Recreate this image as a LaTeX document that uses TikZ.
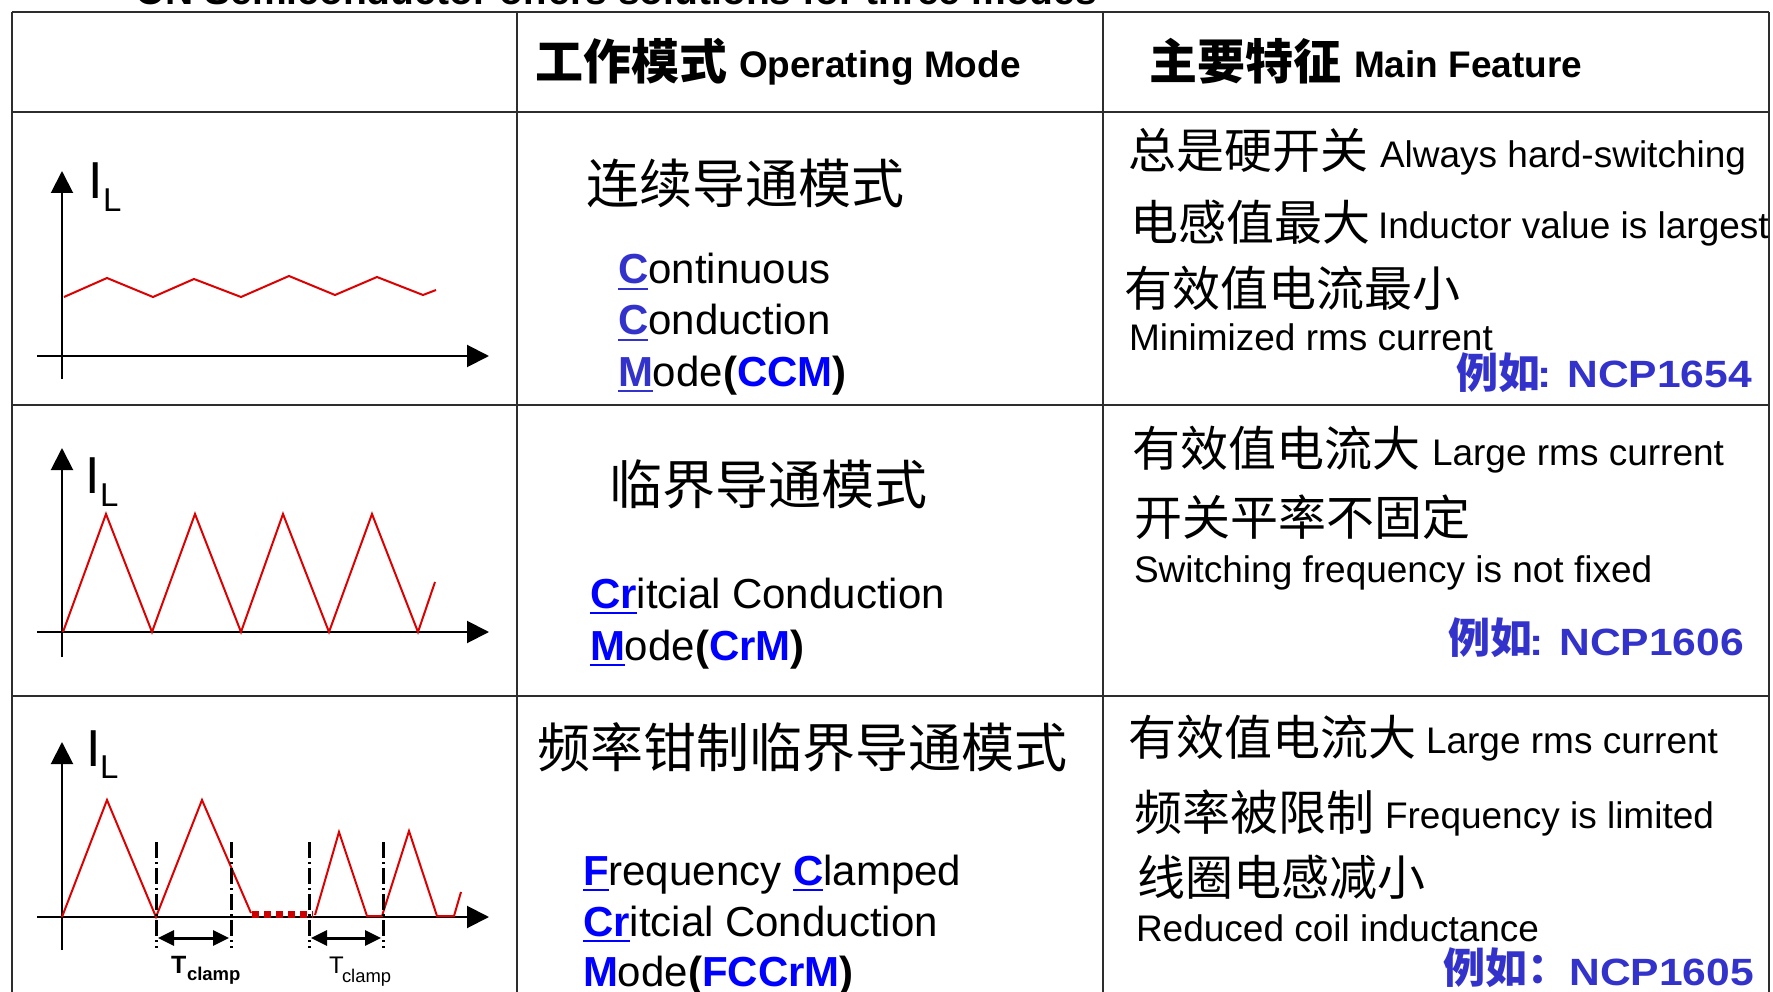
\documentclass[tikz,border=0pt]{standalone}
\usepackage{fontspec}
\usepackage{graphicx}
\setmainfont{Liberation Sans}
\newfontfamily\cjk{Noto Sans CJK SC}
\usetikzlibrary{arrows.meta}
\definecolor{gridc}{RGB}{45,45,45}
\definecolor{wavered}{RGB}{221,0,0}
\definecolor{dotred}{RGB}{204,0,0}
\definecolor{blueA}{RGB}{51,51,204}
\definecolor{blueB}{RGB}{0,0,255}
\newcommand{\fs}[1]{\fontsize{#1}{#1}\selectfont}
\newsavebox\ulbox
\newcommand{\ulw}[1]{\sbox\ulbox{#1}\rlap{\rule[-6pt]{\wd\ulbox}{2.2pt}}\usebox\ulbox}
\tikzset{
  txt/.style={inner sep=0pt, outer sep=0pt},
  cnh/.style={txt, anchor=west, font={\cjk\bfseries\fs{48}}},
  enh/.style={txt, anchor=base west, font={\bfseries\fs{37}}},
  cnmode/.style={txt, anchor=west, font={\cjk\fs{53}}},
  enmode/.style={txt, anchor=base west, font={\fs{42}}},
  cnfeat/.style={txt, anchor=west, font={\cjk\fs{48}}},
  enfeat/.style={txt, anchor=base west, font={\fs{37}}},
  egcn/.style={txt, anchor=west, font={\cjk\bfseries\fs{42}}, text=blueA},
  egen/.style={txt, anchor=base east, font={\bfseries\fs{38}}, text=blueA},
  gridline/.style={draw=gridc, line width=1.6pt},
  axis/.style={line width=2pt, -{Triangle[length=22pt,width=22pt]}},
  wave/.style={draw=wavered, line width=2pt, line join=miter},
  clampline/.style={line width=3pt, dash pattern=on 16pt off 4pt on 2pt off 4pt},
  dblarrow/.style={line width=3pt, {Triangle[length=16pt,width=15pt]}-{Triangle[length=16pt,width=15pt]}},
  bigI/.style={txt, anchor=base west, font={\fs{52}}},
  subL/.style={txt, anchor=base west, font={\fs{33}}}
}
\begin{document}
\begin{tikzpicture}[x=1pt,y=-1pt]
\path[clip] (0,0) rectangle (1773,992);
\fill[white] (0,0) rectangle (1773,992);

% title (cut off at top)
\node[txt, anchor=base west, font={\bfseries\fs{39}}] (title) at (135,5) {ON Semiconductor offers solutions for three modes};

% table grid
\draw[gridline] (12,12) -- (1769,12);
\draw[gridline] (12,112) -- (1769,112);
\draw[gridline] (12,405) -- (1769,405);
\draw[gridline] (12,696) -- (1769,696);
\draw[gridline] (12,12) -- (12,1000);
\draw[gridline] (517,12) -- (517,1000);
\draw[gridline] (1103,12) -- (1103,1000);
\draw[gridline] (1769,12) -- (1769,1000);

% header
\node[cnh] (h1cn) at (535,61) {工作模式};
\node[enh] (h1en) at (739,78) {Operating Mode};
\node[cnh] (h2cn) at (1149,61) {主要特征};
\node[enh] (h2en) at (1354,78) {Main Feature};

% ---------- graph CCM ----------
\draw[axis] (62,379) -- (62,171);
\draw[axis] (37,356) -- (489,356);
\draw[wave] (64,297) -- (107,278) -- (153,297) -- (194,279) -- (241,297) -- (289,276) -- (335,295) -- (377,277) -- (423,295) -- (436,290);
\node[bigI] (i1) at (88,199) {I};
\node[subL] (l1) at (103,212) {L};

% ---------- graph CrM ----------
\draw[axis] (62,657) -- (62,448);
\draw[axis] (37,632) -- (489,632);
\draw[wave] (63,632) -- (106,514) -- (152,632) -- (195,514) -- (241,632) -- (283,514) -- (329,632) -- (372,514) -- (418,632) -- (435,582);
\node[bigI] (i2) at (85,493) {I};
\node[subL] (l2) at (100,506) {L};

% ---------- graph FCCrM ----------
\draw[axis] (62,950) -- (62,742);
\draw[axis] (37,917) -- (489,917);
\draw[wave] (62,917) -- (107,800) -- (156,917) -- (202,800) -- (251,913);
\draw[dotred, line width=7pt, dash pattern=on 6.5pt off 5.5pt] (252,914.5) -- (313,914.5);
\draw[wave] (315,915) -- (339,832) -- (367,916) -- (382,916) -- (409,831) -- (437,916) -- (454,916) -- (461,892);
\draw[clampline] (156,842) -- (156,948);
\draw[clampline] (231,842) -- (231,948);
\draw[clampline] (309,842) -- (309,948);
\draw[clampline] (383,842) -- (383,948);
\coordinate (a1) at (158,938); \coordinate (b1) at (229,938);
\coordinate (a2) at (311,938); \coordinate (b2) at (381,938);
\draw[dblarrow] (a1) -- (b1);
\draw[dblarrow] (a2) -- (b2);
\node[bigI] (i3) at (86,766) {I};
\node[subL] (l3) at (100,778) {L};
\node[txt, anchor=base west, font={\bfseries\fs{25}}] (t1) at (171,973) {T};
\node[txt, anchor=base west, font={\bfseries\fs{18.5}}] (c1) at (187,980) {clamp};
\node[txt, anchor=base west, font={\fs{24}}] (t2) at (329,973) {T};
\node[txt, anchor=base west, font={\fs{18.4}}] (c2) at (342,982) {clamp};

% ---------- column 2: modes ----------
\node[cnmode] (m1cn) at (586,183) {连续导通模式};
\node[enmode] (m1a) at (618,284) {\textcolor{blueA}{\bfseries\ulw{C}}ontinuous};
\node[enmode] (m1b) at (618,335) {\textcolor{blueA}{\bfseries\ulw{C}}onduction};
\node[enmode] (m1c) at (618,386) {\textcolor{blueA}{\bfseries\ulw{M}}ode{\bfseries(\textcolor{blueB}{CCM})}};

\node[cnmode] (m2cn) at (609,484) {临界导通模式};
\node[enmode] (m2a) at (590,608) {\textcolor{blueB}{\bfseries\ulw{Cr}}itcial Conduction};
\node[enmode] (m2b) at (590,660) {\textcolor{blueB}{\bfseries\ulw{M}}ode{\bfseries(\textcolor{blueB}{CrM})}};

\node[cnmode] (m3cn) at (537,747) {频率钳制临界导通模式};
\node[enmode] (m3a) at (583,885) {\textcolor{blueB}{\bfseries\ulw{F}}requency \textcolor{blueB}{\bfseries\ulw{C}}lamped};
\node[enmode] (m3b) at (583,936) {\textcolor{blueB}{\bfseries\ulw{Cr}}itcial Conduction};
\node[enmode] (m3c) at (583,986) {\textcolor{blueB}{\bfseries M}ode{\bfseries(\textcolor{blueB}{FCCrM})}};

% ---------- column 3: features ----------
\node[cnfeat] (f11cn) at (1128,150) {总是硬开关};
\node[enfeat] (f11en) at (1380,168) {Always hard-switching};
\node[cnfeat] (f12cn) at (1130,222) {电感值最大};
\node[enfeat] (f12en) at (1378,239) {Inductor value is largest};
\node[cnfeat] (f13cn) at (1124,288) {有效值电流最小};
\node[enfeat] (f13en) at (1129,351) {Minimized rms current};
\node[egcn] (f14cn) at (1456,373) {例如};
\node[egen] (f14en) at (1752,388) {\scalebox{1.12}[1]{: NCP1654}};

\node[cnfeat] (f21cn) at (1132,448) {有效值电流大};
\node[enfeat] (f21en) at (1432,465) {Large rms current};
\node[cnfeat] (f22cn) at (1134,517) {开关平率不固定};
\node[enfeat] (f22en) at (1134,582) {Switching frequency is not fixed};
\node[egcn] (f23cn) at (1448,638) {例如};
\node[egen] (f23en) at (1744,655) {\scalebox{1.12}[1]{: NCP1606}};

\node[cnfeat] (f31cn) at (1128,737) {有效值电流大};
\node[enfeat] (f31en) at (1426,753) {Large rms current};
\node[cnfeat] (f32cn) at (1134,812) {频率被限制};
\node[enfeat] (f32en) at (1385,828) {Frequency is limited};
\node[cnfeat] (f33cn) at (1137,877) {线圈电感减小};
\node[enfeat] (f33en) at (1136,941) {Reduced coil inductance};
\node[egcn] (f34cn) at (1443,968) {例如：};
\node[egen] (f34en) at (1754,985) {\scalebox{1.12}[1]{NCP1605}};
\end{tikzpicture}
\end{document}
